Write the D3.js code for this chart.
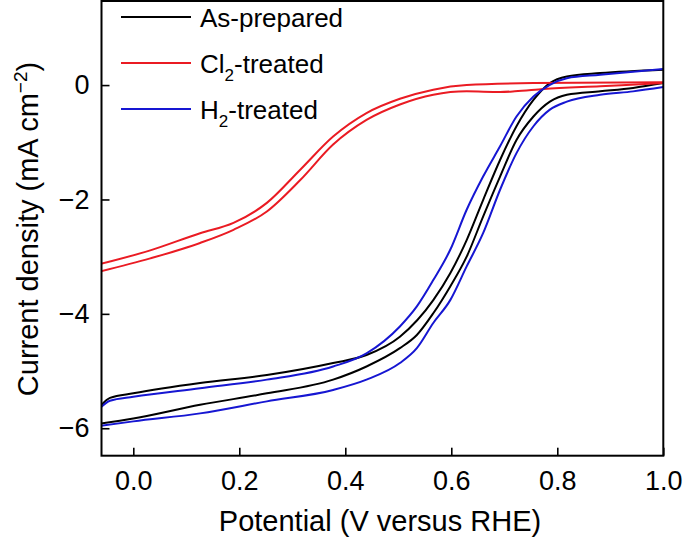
<!DOCTYPE html>
<html>
<head>
<meta charset="utf-8">
<script src="https://cdn.jsdelivr.net/npm/d3@7"></script>
<style>
  html, body { margin: 0; padding: 0; background: #fff; }
  svg { display: block; font-family: "Liberation Sans", Arial, Helvetica, sans-serif; }
</style>
</head>
<body>
<svg id="chart" width="685" height="538"></svg>
<script>
// ---- Data ----
const xTicks = [0.0, 0.2, 0.4, 0.6, 0.8, 1.0];
const yTicks = [-6, -4, -2, 0];

// As-prepared (two scans)
const asPreparedA = [[-0.063,-5.62],[-0.044,-5.47],[0,-5.39],[0.126,-5.21],[0.252,-5.07],[0.377,-4.86],[0.44,-4.72],[0.503,-4.40],[0.566,-3.76],[0.598,-3.29],[0.629,-2.71],[0.660,-2.01],[0.692,-1.31],[0.723,-0.72],[0.755,-0.26],[0.786,0.035],[0.818,0.15],[0.881,0.21],[1.0,0.27]];
const asPreparedB = [[-0.063,-5.92],[0,-5.83],[0.126,-5.59],[0.252,-5.39],[0.377,-5.15],[0.44,-4.92],[0.503,-4.60],[0.535,-4.37],[0.566,-3.99],[0.598,-3.52],[0.629,-3.00],[0.660,-2.30],[0.692,-1.60],[0.723,-0.96],[0.755,-0.55],[0.786,-0.29],[0.818,-0.17],[0.881,-0.11],[0.943,-0.05],[1.0,0.035]];
// Cl2-treated (two scans)
const cl2TreatedA = [[-0.063,-3.13],[0.032,-2.89],[0.126,-2.59],[0.189,-2.41],[0.252,-2.06],[0.315,-1.48],[0.377,-0.90],[0.44,-0.49],[0.503,-0.24],[0.566,-0.08],[0.629,0.0],[0.755,0.035],[1.0,0.05]];
const cl2TreatedB = [[-0.063,-3.26],[0.032,-3.03],[0.126,-2.76],[0.189,-2.53],[0.252,-2.21],[0.315,-1.66],[0.377,-1.04],[0.44,-0.61],[0.503,-0.34],[0.566,-0.17],[0.629,-0.11],[0.692,-0.12],[0.72,-0.11],[0.774,-0.07],[0.881,-0.02],[1.0,0.035]];
// H2-treated (two scans)
const h2TreatedA = [[-0.063,-5.65],[-0.044,-5.52],[0,-5.45],[0.126,-5.30],[0.252,-5.15],[0.377,-4.92],[0.44,-4.69],[0.503,-4.22],[0.535,-3.87],[0.566,-3.41],[0.598,-2.88],[0.629,-2.18],[0.660,-1.60],[0.692,-1.07],[0.723,-0.55],[0.755,-0.20],[0.786,0.005],[0.818,0.12],[0.881,0.18],[1.0,0.28]];
const h2TreatedB = [[-0.063,-5.96],[0,-5.88],[0.126,-5.74],[0.252,-5.53],[0.377,-5.33],[0.44,-5.15],[0.503,-4.86],[0.535,-4.60],[0.566,-4.16],[0.598,-3.76],[0.629,-3.17],[0.660,-2.59],[0.692,-1.83],[0.723,-1.19],[0.755,-0.72],[0.786,-0.43],[0.818,-0.29],[0.881,-0.17],[0.943,-0.11],[1.0,-0.035]];

const seriesNames = ["As-prepared", "Cl2-treated", "H2-treated"];
const seriesColors = ["#000000", "#ea1b23", "#1616d2"];

// ---- Layout ----
const L = 101.5, R = 663.3, T = 1, B = 455.7;
const svg = d3.select("#chart");
const x = d3.scaleLinear().domain([-0.06, 1.0]).range([L, R]);
const y = d3.scaleLinear().domain([-6.48, 1.47]).range([B, T]);

const line = d3.line().x(d => x(d[0])).y(d => y(d[1])).curve(d3.curveMonotoneX);

const traces = [
  {data: asPreparedA, c: 0}, {data: asPreparedB, c: 0},
  {data: cl2TreatedA, c: 1}, {data: cl2TreatedB, c: 1},
  {data: h2TreatedA, c: 2}, {data: h2TreatedB, c: 2}
];

svg.append("defs").append("clipPath").attr("id", "clip")
  .append("rect").attr("x", L).attr("y", T).attr("width", R - L).attr("height", B - T);

svg.append("g").attr("clip-path", "url(#clip)")
  .selectAll("path").data(traces).join("path")
  .attr("d", d => line(d.data))
  .attr("fill", "none")
  .attr("stroke", d => seriesColors[d.c])
  .attr("stroke-width", 2);

// Axes
const fmtX = d3.format(".1f");
const xAxis = svg.append("g").attr("transform", `translate(0,${B})`)
  .call(d3.axisBottom(x).tickValues(xTicks).tickFormat(fmtX).tickSize(-8).tickPadding(15));
const yAxis = svg.append("g").attr("transform", `translate(${L},0)`)
  .call(d3.axisLeft(y).tickValues(yTicks).tickFormat(d => d < 0 ? "\u2212" + Math.abs(d) : d).tickSize(-8).tickPadding(12));
[xAxis, yAxis].forEach(g => {
  g.select(".domain").remove();
  g.selectAll(".tick line").attr("stroke", "#000").attr("stroke-width", 1.6);
  g.selectAll(".tick text").attr("fill", "#000").style("font-size", "27px")
    .style("font-family", '"Liberation Sans", Arial, sans-serif');
});

// Frame
svg.append("rect").attr("x", L).attr("y", T).attr("width", R - L).attr("height", B - T)
  .attr("fill", "none").attr("stroke", "#000").attr("stroke-width", 2);

// Axis titles
svg.append("text").attr("x", 380).attr("y", 531).attr("text-anchor", "middle")
  .style("font-size", "29px").text("Potential (V versus RHE)");

const yt = svg.append("text").attr("transform", "translate(38,229) rotate(-90)")
  .attr("text-anchor", "middle").style("font-size", "29px");
yt.append("tspan").text("Current density (mA cm");
yt.append("tspan").attr("dy", -11).style("font-size", "19px").text("\u22122");
yt.append("tspan").attr("dy", 11).text(")");

// Legend
const legY = [17, 63, 109];
const leg = svg.append("g");
seriesNames.forEach((n, i) => {
  leg.append("line").attr("x1", 121).attr("x2", 191).attr("y1", legY[i]).attr("y2", legY[i])
    .attr("stroke", seriesColors[i]).attr("stroke-width", 2);
  const t = leg.append("text").attr("x", 200).attr("y", legY[i] + 10).style("font-size", "26px");
  if (i === 0) {
    t.text(n);
  } else {
    const base = i === 1 ? "Cl" : "H";
    t.append("tspan").text(base);
    t.append("tspan").attr("dy", 8).style("font-size", "17px").text("2");
    t.append("tspan").attr("dy", -8).text("-treated");
  }
});
</script>
</body>
</html>
